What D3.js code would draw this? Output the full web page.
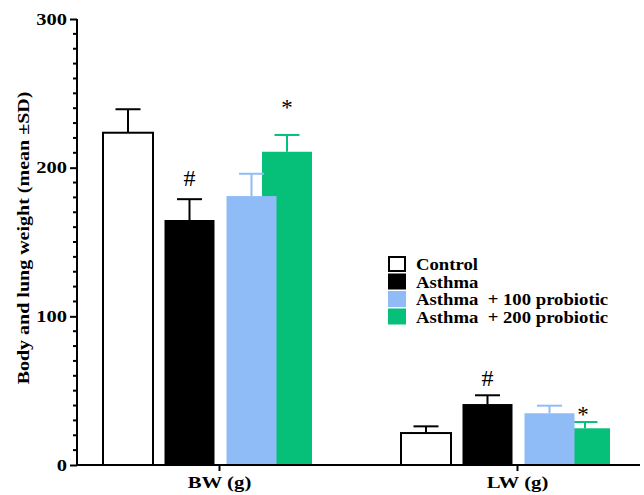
<!DOCTYPE html>
<html>
<head>
<meta charset="utf-8">
<script src="https://cdn.jsdelivr.net/npm/d3@7"></script>
<style>
  body { margin: 0; background: #fff; }
  text { font-family: "Liberation Serif", "Times New Roman", serif; font-weight: bold; }
</style>
</head>
<body>
<div id="chart"></div>
<script>
const categories = ['BW (g)', 'LW (g)'];
const series = ['Control', 'Asthma', 'Asthma  + 100 probiotic', 'Asthma  + 200 probiotic'];
const means = {
  'Control': [223.5, 21.5],
  'Asthma': [164.8, 41],
  'Asthma  + 100 probiotic': [180.9, 34.8],
  'Asthma  + 200 probiotic': [210.7, 24.7]
};
const sds = {
  'Control': [15.8, 4.5],
  'Asthma': [14, 5.9],
  'Asthma  + 100 probiotic': [15, 5.1],
  'Asthma  + 200 probiotic': [11.3, 4.2]
};
// significance marks, "at" = height of the symbol in axis units
const marks = [
  { cat: 'BW (g)', s: 'Asthma', sym: '#', at: 193 },
  { cat: 'BW (g)', s: 'Asthma  + 200 probiotic', sym: '*', at: 242 },
  { cat: 'LW (g)', s: 'Asthma', sym: '#', at: 58.5 },
  { cat: 'LW (g)', s: 'Asthma  + 200 probiotic', sym: '*', at: 35.6 }
];
const yTicks = [0, 100, 200, 300];

const width = 644, height = 495;
const colors = d3.scaleOrdinal().domain(series).range(['#ffffff', '#000000', '#8fbcf6', '#06c07a']);
const strokes = d3.scaleOrdinal().domain(series).range(['#000000', '#000000', '#8fbcf6', '#06c07a']);

// the original's type is horizontally wide, so stretch glyphs a bit
function stretch(sel, k) {
  sel.each(function () {
    const w = this.getComputedTextLength();
    d3.select(this).attr('textLength', w * k).attr('lengthAdjust', 'spacingAndGlyphs');
  });
}

const svg = d3.select('#chart').append('svg')
  .attr('width', width)
  .attr('height', height);

const y = d3.scaleLinear().domain([0, 300]).range([465, 19]);
const x0 = d3.scalePoint().domain(categories).range([219, 517]);
// bar offsets from the group tick (green partly under blue, as in the original)
const x1 = d3.scaleOrdinal().domain(series).range([-91, -29.5, 32.5, 68]);
const barW = 50;

// bars: draw green before blue so blue sits on top
const drawOrder = [series[0], series[1], series[3], series[2]];
const rows = [];
drawOrder.forEach(s => categories.forEach((c, i) => rows.push({ s, c, v: means[s][i], sd: sds[s][i] })));

const g = svg.append('g');
const bar = g.selectAll('g.bar').data(rows).enter().append('g').attr('class', 'bar');

bar.append('line')
  .attr('x1', d => x0(d.c) + x1(d.s))
  .attr('x2', d => x0(d.c) + x1(d.s))
  .attr('y1', d => y(d.v))
  .attr('y2', d => y(d.v + d.sd))
  .attr('stroke', d => strokes(d.s))
  .attr('stroke-width', 2);
bar.append('line')
  .attr('x1', d => x0(d.c) + x1(d.s) - 12.5)
  .attr('x2', d => x0(d.c) + x1(d.s) + 12.5)
  .attr('y1', d => y(d.v + d.sd))
  .attr('y2', d => y(d.v + d.sd))
  .attr('stroke', d => strokes(d.s))
  .attr('stroke-width', 2);
bar.append('rect')
  .attr('x', d => x0(d.c) + x1(d.s) - barW / 2)
  .attr('y', d => y(d.v))
  .attr('width', barW)
  .attr('height', d => y(0) - y(d.v))
  .attr('fill', d => colors(d.s))
  .attr('stroke', d => d.s === 'Control' ? '#000' : 'none')
  .attr('stroke-width', 2);

// significance symbols
g.selectAll('text.mark').data(marks).enter().append('text')
  .attr('class', 'mark')
  .attr('x', d => x0(d.cat) + x1(d.s) - (d.sym === '*' && d.cat === 'LW (g)' ? 2 : 0))
  .attr('y', d => y(d.at) + (d.sym === '#' ? 8 : 10))
  .attr('text-anchor', 'middle')
  .attr('font-size', d => d.sym === '#' ? 24 : 23)
  .style('font-weight', 'normal')
  .text(d => d.sym);

// y axis
const yAxis = svg.append('g').attr('transform', 'translate(77,0)');
yAxis.call(d3.axisLeft(y).tickValues(yTicks).tickSize(7).tickPadding(3))
  .call(a => a.select('.domain').attr('stroke-width', 2).attr('d', `M0,${y(300)}V${y(0)}`))
  .call(a => a.selectAll('.tick line').attr('stroke-width', 2))
  .call(a => a.selectAll('.tick text').attr('font-size', 16).attr('fill', '#000')
    .style('font-family', '"Liberation Serif", serif').style('font-weight', 'bold')
    .call(stretch, 1.28));
yAxis.selectAll('line.minor').data(d3.range(0, 301, 10).filter(v => v % 100 !== 0)).enter()
  .append('line').attr('class', 'minor')
  .attr('x1', -4).attr('x2', 0)
  .attr('y1', d => y(d)).attr('y2', d => y(d))
  .attr('stroke', '#000').attr('stroke-width', 2);

// x axis
const xAxis = svg.append('g').attr('transform', `translate(0,${y(0)})`);
xAxis.call(d3.axisBottom(x0).tickSize(6).tickPadding(5))
  .call(a => a.select('.domain').attr('stroke-width', 2).attr('d', 'M76,0H640'))
  .call(a => a.selectAll('.tick line').attr('stroke-width', 2))
  .call(a => a.selectAll('.tick text').attr('font-size', 17).attr('fill', '#000')
    .style('font-family', '"Liberation Serif", serif').style('font-weight', 'bold')
    .call(stretch, 1.22));

// y label
svg.append('text')
  .attr('transform', 'translate(29,238) rotate(-90)')
  .attr('text-anchor', 'middle')
  .attr('font-size', 16)
  .text('Body and lung weight (mean ±SD)')
  .call(stretch, 1.25);

// legend
const legend = svg.append('g').attr('transform', 'translate(388,256)');
const li = legend.selectAll('g').data(series).enter().append('g')
  .attr('transform', (d, i) => `translate(0,${i * 17.5})`);
li.append('rect')
  .attr('x', d => d === 'Control' ? 1 : 0)
  .attr('y', d => d === 'Control' ? 1 : 0)
  .attr('width', d => d === 'Control' ? 16 : 18)
  .attr('height', d => d === 'Control' ? 14 : 16)
  .attr('fill', d => colors(d))
  .attr('stroke', d => d === 'Control' ? '#000' : 'none')
  .attr('stroke-width', 2);
li.append('text')
  .attr('x', 28)
  .attr('y', 14)
  .attr('font-size', 17)
  .attr('xml:space', 'preserve')
  .style('white-space', 'pre')
  .text(d => d)
  .call(stretch, 1.1);
</script>
</body>
</html>
